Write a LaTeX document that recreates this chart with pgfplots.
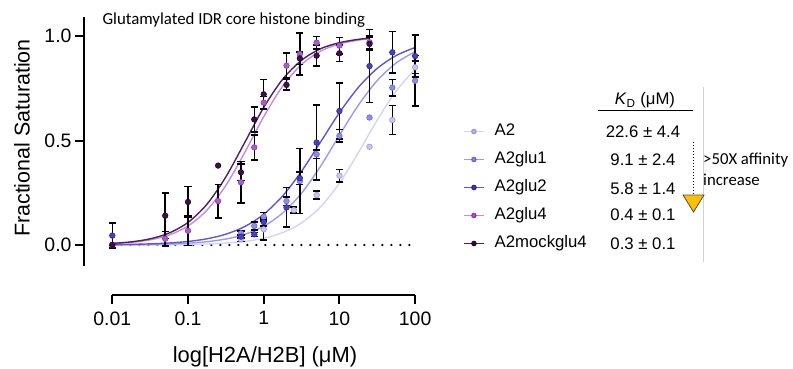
\documentclass[border=0pt]{standalone}
\usepackage{pgfplots}
\pgfplotsset{compat=1.18}
\usepackage{pgfplotstable}
\usepackage{fontspec}
\setmainfont{Liberation Sans}
\newfontfamily\calibri{Carlito}
\definecolor{cA}{HTML}{C9C6EE}\definecolor{eA}{HTML}{9C97D6}\definecolor{lA}{HTML}{D6D3F5}
\definecolor{cB}{HTML}{8F8DE6}\definecolor{eB}{HTML}{6D69D0}\definecolor{lB}{HTML}{9D9AEC}
\definecolor{cC}{HTML}{4A40B8}\definecolor{eC}{HTML}{2E2590}\definecolor{lC}{HTML}{6155D0}
\definecolor{cD}{HTML}{A760C8}\definecolor{eD}{HTML}{8A40AA}\definecolor{lD}{HTML}{C68AE0}
\definecolor{cE}{HTML}{3B1148}\definecolor{eE}{HTML}{25062E}\definecolor{lE}{HTML}{4D2062}
\definecolor{tri}{HTML}{FFC000}

% data with error bars: x y e
\pgfplotstableread{
x y e
0.05 0.14 0.11
0.1 0.206 0.075
0.5 0.348 0.04
0.75 0.601 0.06
1 0.721 0.07
2 0.766 0.025
3 0.893 0.03
5 0.906 0.05
10 0.917 0.04
25 0.962 0.03
}\mockE
\pgfplotstableread{
x y
0.01 0.0
0.25 0.38
}\mockN
\pgfplotstableread{
x y e
0.05 0.03 0.035
0.1 0.068 0.07
0.25 0.21 0.08
0.5 0.30 0.10
0.75 0.467 0.06
1 0.681 0.03
2 0.858 0.06
3 0.914 0.10
5 0.968 0.03
10 0.954 0.04
25 0.970 0.03
}\gluFourE
\pgfplotstableread{
x y
0.01 0.0
}\gluFourN
\pgfplotstableread{
x y e
0.01 0.045 0.06
0.5 0.04 0.01
0.75 0.051 0.01
1 0.11 0.02
2 0.18 0.095
3 0.32 0.03
5 0.49 0.18
10 0.641 0.135
25 0.856 0.175
50 0.922 0.10
100 0.904 0.10
}\gluTwoE
\pgfplotstableread{
x y e
0.5 0.056 0.01
0.75 0.091 0.02
1 0.135 0.02
2 0.21 0.02
3 0.306 0.155
5 0.434 0.02
10 0.522 0.03
50 0.753 0.04
100 0.786 0.12
}\gluOneE
\pgfplotstableread{
x y
0.01 0.0
25 0.61
}\gluOneN
\pgfplotstableread{
x y e
0.5 0.027 0.01
1 0.075 0.05
2.5 0.167 0.015
5 0.239 0.02
10 0.332 0.03
50 0.598 0.07
100 0.850 0.03
}\AtwoE
\pgfplotstableread{
x y
0.01 0.0
25 0.47
}\AtwoN

\begin{document}
\begin{tikzpicture}[x=1bp,y=1bp]
\useasboundingbox (0,0) rectangle (793,368);
\begin{axis}[
  at={(84bp,73bp)}, anchor=south west, scale only axis,
  width=333bp, height=278bp,
  xmode=log, xmin=0.004227, xmax=105.9, ymin=-0.2392, ymax=1.0909,
  axis lines=left, axis line style={draw=none},
  ytick={0,0.5,1}, yticklabels={0.0,0.5,1.0},
  xtick={0.01,0.1,1,10,100}, xticklabels={0.01,0.1,1,10,100},
  xminorticks=false, yminorticks=false,
  tick style={black, line width=2bp}, major tick length=9bp, tick align=outside,
  ticklabel style={font=\fontsize{19.5}{22}\selectfont},
  xticklabel style={yshift=-4bp},
  clip=false,
  legend cell align=left,
  legend image code/.code={\draw[mark repeat=2,mark phase=2,#1] plot coordinates {(0bp,0bp) (10bp,0bp) (20bp,0bp)};},
  legend style={at={(1.1381,0.3867)}, anchor=west, draw=none, fill=none, inner sep=0pt,
    font=\fontsize{16.8}{19}\selectfont, row sep=12bp, column sep=10bp,
    nodes={text height=12bp, text depth=4bp, inner sep=0pt}},
  every axis plot/.append style={forget plot},
]
% axis lines
\draw[line width=2.2bp] (axis cs:0.004227,-0.1) -- (axis cs:0.004227,1.0909);
\draw[line width=2.2bp] (axis cs:0.01,-0.2392) -- (axis cs:100,-0.2392);
% baseline
\addplot[black, line width=2.4bp, line cap=round, dash pattern=on 0bp off 9bp] coordinates {(0.01,0) (100,0)};
% curves
\addplot[lA, line width=1.4bp, smooth] coordinates {(0.01,0.0002)(0.017783,0.0004)(0.031623,0.00075)(0.056234,0.0014)(0.1,0.00264)(0.17783,0.00497)(0.31623,0.00932)(0.56234,0.0174)(1,0.0323)(1.7783,0.0591)(3.1623,0.1059)(5.6234,0.182)(10,0.296)(17.783,0.442)(31.623,0.598)(56.234,0.737)(100,0.841)};
\addplot[lB, line width=1.4bp, smooth] coordinates {(0.01,0.00078)(0.017783,0.00143)(0.031623,0.00261)(0.056234,0.00477)(0.1,0.0087)(0.17783,0.0158)(0.31623,0.0286)(0.56234,0.051)(1,0.0896)(1.7783,0.153)(3.1623,0.248)(5.6234,0.376)(10,0.525)(17.783,0.669)(31.623,0.787)(56.234,0.871)(100,0.925)};
\addplot[lC, line width=1.4bp, smooth] coordinates {(0.01,0.00172)(0.017783,0.00306)(0.031623,0.00542)(0.056234,0.00961)(0.1,0.0169)(0.17783,0.0297)(0.31623,0.0517)(0.56234,0.0884)(1,0.147)(1.7783,0.2346)(3.1623,0.353)(5.6234,0.492)(10,0.633)(17.783,0.754)(31.623,0.845)(56.234,0.9065)(100,0.945)};
\addplot[lD, line width=1.4bp, smooth] coordinates {(0.01,0.0063)(0.017783,0.0125)(0.031623,0.0246)(0.056234,0.0478)(0.1,0.0911)(0.17783,0.1667)(0.31623,0.285)(0.56234,0.443)(1,0.614)(1.7783,0.760)(3.1623,0.864)(5.6234,0.927)(10,0.962)(17.783,0.980)(25,0.987)};
\addplot[lE, line width=1.4bp, smooth] coordinates {(0.01,0.0076)(0.017783,0.0150)(0.031623,0.0296)(0.056234,0.0573)(0.1,0.108)(0.17783,0.195)(0.31623,0.326)(0.56234,0.491)(1,0.658)(1.7783,0.793)(3.1623,0.884)(5.6234,0.939)(10,0.968)(17.783,0.984)(25,0.989)};
% points
\pgfplotsset{pts/.style={only marks, mark=*, mark size=2.8bp, mark options={fill=c#1, draw=e#1, line width=0.6bp}},
  eb/.style={error bars/.cd, y dir=both, y explicit, error bar style={black, line width=1.5bp},
  error mark options={rotate=90, black, mark size=3.6bp, line width=1.5bp}}}
\addplot[pts=A] table[x=x,y=y] {\AtwoN};
\addplot[pts=A, eb] table[x=x,y=y,y error=e] {\AtwoE};
\addplot[pts=B] table[x=x,y=y] {\gluOneN};
\addplot[pts=B, eb] table[x=x,y=y,y error=e] {\gluOneE};
\addplot[pts=C, eb] table[x=x,y=y,y error=e] {\gluTwoE};
\addplot[pts=D] table[x=x,y=y] {\gluFourN};
\addplot[pts=D, eb] table[x=x,y=y,y error=e] {\gluFourE};
\addplot[pts=E] table[x=x,y=y] {\mockN};
\addplot[pts=E, eb] table[x=x,y=y,y error=e] {\mockE};
% legend
\addlegendimage{lA, line width=1.5bp, mark=*, mark size=2bp, mark options={fill=cA, draw=eA}}
\addlegendentry{A2}
\addlegendimage{lB, line width=1.5bp, mark=*, mark size=2bp, mark options={fill=cB, draw=eB}}
\addlegendentry{A2glu1}
\addlegendimage{lC, line width=1.5bp, mark=*, mark size=2bp, mark options={fill=cC, draw=eC}}
\addlegendentry{A2glu2}
\addlegendimage{lD, line width=1.5bp, mark=*, mark size=2bp, mark options={fill=cD, draw=eD}}
\addlegendentry{A2glu4}
\addlegendimage{lE, line width=1.5bp, mark=*, mark size=2bp, mark options={fill=cE, draw=eE}}
\addlegendentry{A2mockglu4}
\end{axis}
% labels
\node[rotate=90, font=\fontsize{21.5}{25}\selectfont] at (22,230) {Fractional Saturation};
\node[font=\fontsize{22}{26}\selectfont] at (265,11) {log[H2A/H2B] (μM)};
\node[anchor=west, font=\calibri\fontsize{16.9}{20}\selectfont] at (99,348) {Glutamylated IDR core histone binding};
% KD table
\begin{scope}[every node/.style={font=\fontsize{16.8}{19}\selectfont}]
\node at (645,267.5) {\textit{K}\textsubscript{D} (μM)};
\draw[line width=1.2bp] (598,257.3) -- (693,257.3);
\node at (643,236.3) {22.6 ± 4.4};
\node at (643,208) {9.1 ± 2.4};
\node at (643,179.7) {5.8 ± 1.4};
\node at (643,153) {0.4 ± 0.1};
\node at (643,124.7) {0.3 ± 0.1};
\end{scope}
\draw[gray!35, line width=0.8bp] (703,281) -- (703,106);
\draw[black, line width=1.3bp, dash pattern=on 1.3bp off 1.7bp] (693.5,226) -- (693.5,173);
\draw[fill=tri, draw=black!70, line width=0.8bp] (683,173) -- (704,173) -- (693.5,156) -- cycle;
\node[anchor=west, inner sep=0pt, font=\calibri\fontsize{16.8}{20}\selectfont] at (703,208) {>50X affinity};
\node[anchor=west, inner sep=0pt, font=\calibri\fontsize{16.8}{20}\selectfont] at (703,188) {increase};
\end{tikzpicture}
\end{document}
